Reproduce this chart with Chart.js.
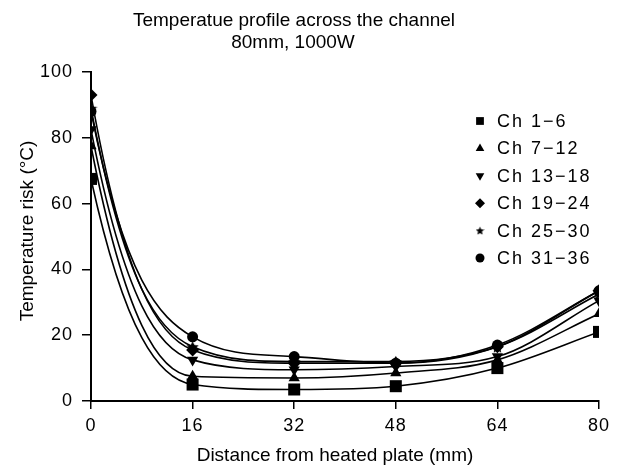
<!DOCTYPE html>
<html>
<head>
<meta charset="utf-8">
<script src="https://cdn.jsdelivr.net/npm/chart.js@4.4.1/dist/chart.umd.min.js"></script>
<style>
  html, body { margin: 0; padding: 0; background: #fff; }
  #wrap { width: 621px; height: 471px; position: relative; }
</style>
</head>
<body>
<div id="wrap"><canvas id="chart"></canvas></div>
<script>
// distance from heated plate (mm)
const distances = [0, 16, 32, 48, 64, 80];

// temperature rise per channel group (°C)
const ch1to6   = [67.5, 5, 3.5, 4.5, 10, 21];
const ch7to12  = [77.5, 7.5, 7, 8.5, 12.5, 26.5];
const ch13to18 = [82.5, 12.5, 9.5, 10.5, 13.5, 30.5];
const ch19to24 = [93, 15.5, 11.5, 11.5, 16.5, 33.5];
const ch25to30 = [89, 16.5, 12, 12, 16.5, 32.5];
const ch31to36 = [88, 19.5, 13.5, 11.5, 17, 33.5];

const seriesNames = ['Ch 1\u22126', 'Ch 7\u221212', 'Ch 13\u221218', 'Ch 19\u221224', 'Ch 25\u221230', 'Ch 31\u221236'];
const seriesValues = [ch1to6, ch7to12, ch13to18, ch19to24, ch25to30, ch31to36];

const xTicks = [0, 16, 32, 48, 64, 80];
const yTicks = [0, 20, 40, 60, 80, 100];

const titleLines = ['Temperatue profile across the channel', '80mm, 1000W'];
const xTitle = 'Distance from heated plate (mm)';
const yTitle = 'Temperature risk (\u00b0C)';

// filled five point star, used as an image point style
function starCanvas(size) {
    const c = document.createElement('canvas');
    c.width = c.height = size;
    const g = c.getContext('2d');
    g.fillStyle = '#000';
    g.beginPath();
    const cx = size / 2, cy = size / 2 + size * 0.05, ro = size / 2, ri = ro * 0.45;
    for (let i = 0; i < 10; i++) {
        const r = i % 2 ? ri : ro;
        const a = -Math.PI / 2 + i * Math.PI / 5;
        g.lineTo(cx + r * Math.cos(a), cy + r * Math.sin(a));
    }
    g.closePath();
    g.fill();
    return c;
}

const markers = [
    { style: 'rect', radius: 8.5, rot: 0, legendRadius: 5.5 },
    { style: 'triangle', radius: 6.5, rot: 0, legendRadius: 5 },
    { style: 'triangle', radius: 6.5, rot: 180, legendRadius: 5 },
    { style: 'rectRot', radius: 6.5, rot: 0, legendRadius: 5 },
    { style: starCanvas(13), radius: 6.5, rot: 0, legendStyle: starCanvas(9), legendRadius: 4.5 },
    { style: 'circle', radius: 5.5, rot: 0, legendRadius: 4.5 }
];

const datasets = seriesValues.map((vals, i) => ({
    label: seriesNames[i],
    data: distances.map((d, j) => ({ x: d, y: vals[j] })),
    borderColor: '#000',
    backgroundColor: '#000',
    borderWidth: 1.6,
    cubicInterpolationMode: 'monotone',
    pointStyle: markers[i].style,
    pointRotation: markers[i].rot,
    pointRadius: markers[i].radius,
    pointHoverRadius: markers[i].radius,
    pointBorderWidth: 0,
    pointBackgroundColor: '#000'
}));

const FONT = '"Liberation Sans", Arial, Helvetica, sans-serif';

// wider tracking for the library-drawn tick labels
const spacingPlugin = {
    id: 'spacing',
    beforeDraw(chart) { chart.ctx.letterSpacing = '1px'; },
    afterDraw(chart) { chart.ctx.letterSpacing = '0px'; }
};

// the fitted curves drop off fast near the plate: steepen the first bezier handle
const decayPlugin = {
    id: 'decay',
    beforeDatasetDraw(chart, args) {
        const meta = args.meta;
        const line = meta.dataset;
        line.updateControlPoints(chart.chartArea, meta.iScale.axis);
        const p0 = meta.data[0], p1 = meta.data[1];
        p0.cp2x = p0.x + (p1.x - p0.x) / 3;
        p0.cp2y = p0.y + 0.75 * (p1.y - p0.y);
        line._path = undefined;
    }
};

const textPlugin = {
    id: 'texts',
    afterDraw(chart) {
        const ctx = chart.ctx;
        ctx.save();
        ctx.letterSpacing = '0px';
        ctx.fillStyle = '#000';
        ctx.textAlign = 'center';
        ctx.textBaseline = 'alphabetic';
        ctx.font = '19px ' + FONT;
        ctx.fillText(titleLines[0], 294, 26);
        ctx.fillText(titleLines[1], 293, 48);

        ctx.fillText(xTitle, 335, 461);

        ctx.save();
        ctx.translate(33, 231);
        ctx.rotate(-Math.PI / 2);
        ctx.fillText(yTitle, 0, 0);
        ctx.restore();

        // legend
        ctx.textAlign = 'left';
        ctx.textBaseline = 'middle';
        ctx.font = '18px ' + FONT;
        ctx.letterSpacing = '2px';
        seriesNames.forEach((name, i) => {
            const y = 121 + i * 27.4;
            const m = markers[i];
            ctx.fillStyle = '#000';
            Chart.helpers.drawPoint(ctx, {
                pointStyle: m.legendStyle || m.style,
                rotation: m.rot,
                radius: m.legendRadius,
                borderWidth: 0
            }, 480, y);
            ctx.fillText(name, 497, y + 1);
        });
        ctx.restore();
    }
};

const ctx = document.getElementById('chart').getContext('2d');
new Chart(ctx, {
    type: 'line',
    data: { datasets: datasets },
    options: {
        responsive: true,
        maintainAspectRatio: false,
        animation: false,
        layout: { padding: { top: 72, right: 22, left: 0, bottom: 0 } },
        plugins: {
            legend: { display: false },
            title: { display: false },
            tooltip: { enabled: false }
        },
        scales: {
            x: {
                type: 'linear',
                min: 0,
                max: 80,
                afterBuildTicks: s => { s.ticks = xTicks.map(v => ({ value: v })); },
                afterFit: s => { s.height = 70; },
                border: { color: '#000', width: 2 },
                grid: { drawOnChartArea: false, drawTicks: true, tickLength: 8, color: '#000', lineWidth: 1.5 },
                ticks: { color: '#000', padding: 6, maxRotation: 0, font: { family: FONT, size: 18 } }
            },
            y: {
                type: 'linear',
                min: 0,
                max: 100,
                afterBuildTicks: s => { s.ticks = yTicks.map(v => ({ value: v })); },
                afterFit: s => { s.width = 91; },
                border: { color: '#000', width: 2 },
                grid: { drawOnChartArea: false, drawTicks: true, tickLength: 9, color: '#000', lineWidth: 1.5 },
                ticks: { color: '#000', padding: 9, font: { family: FONT, size: 18 } }
            }
        }
    },
    plugins: [spacingPlugin, decayPlugin, textPlugin]
});
</script>
</body>
</html>
